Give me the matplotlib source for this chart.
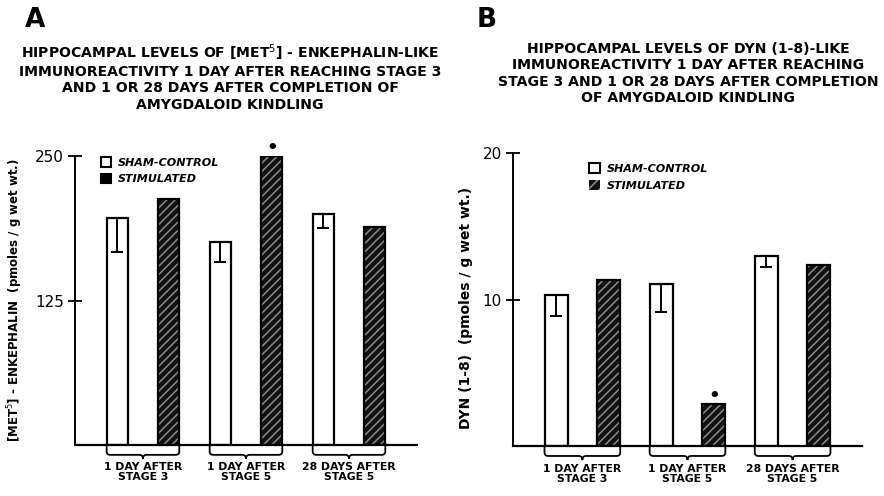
import numpy as np
import matplotlib.pyplot as plt
from matplotlib.patches import Patch, PathPatch
from matplotlib.path import Path
from matplotlib.transforms import blended_transform_factory

groups = ["1 DAY AFTER\nSTAGE 3", "1 DAY AFTER\nSTAGE 5", "28 DAYS AFTER\nSTAGE 5"]

# panel A: [Met5]-enkephalin (pmoles / g wet wt.)
enk_sham = [196, 176, 200]
enk_sham_err = [29, 18, 12]
enk_stim = [213, 250, 189]
enk_ticks = [125, 250]

# panel B: DYN (1-8) (pmoles / g wet wt.)
dyn_sham = [10.3, 11.05, 12.95]
dyn_sham_err = [1.4, 1.9, 0.7]
dyn_stim = [11.3, 2.9, 12.35]
dyn_ticks = [10, 20]

signif = [False, True, False]

plt.rcParams["font.family"] = "DejaVu Sans"
plt.rcParams["hatch.linewidth"] = 1.1

STIM_FACE = "#111111"
HATCH_COL = "#8c8c8c"


def brace(ax, x0, x1):
    # curly bracket under each pair of bars
    tr = blended_transform_factory(ax.transData, ax.transAxes)
    xc = (x0 + x1) / 2
    d, n, r = 0.034, 0.014, 0.035
    verts = [(x0, 0), (x0, -d + 0.012), (x0, -d), (x0 + r, -d),
             (xc - r, -d), (xc, -d), (xc, -d - n),
             (xc, -d), (xc + r, -d),
             (x1 - r, -d), (x1, -d), (x1, -d + 0.012), (x1, 0)]
    codes = [Path.MOVETO, Path.LINETO, Path.CURVE3, Path.CURVE3,
             Path.LINETO, Path.CURVE3, Path.CURVE3,
             Path.CURVE3, Path.CURVE3,
             Path.LINETO, Path.CURVE3, Path.CURVE3, Path.LINETO]
    ax.add_patch(PathPatch(Path(verts, codes), transform=tr, fill=False,
                           lw=1.3, ec="black", clip_on=False))


def panel(ax, sham, sham_err, stim, ticks, ymax, width):
    x = np.arange(len(groups))
    xs, xt = x - 0.25, x + 0.25
    ax.bar(xs, sham, width, color="white", edgecolor="black", lw=1.6, zorder=2)
    ax.errorbar(xs, sham, yerr=[sham_err, np.zeros(len(sham))], fmt="none",
                ecolor="black", elinewidth=1.4, capsize=4, capthick=1.4, zorder=3)
    ax.bar(xt, stim, width, color=STIM_FACE, edgecolor=HATCH_COL, hatch="////",
           lw=0, zorder=2)
    ax.bar(xt, stim, width, fill=False, edgecolor="black", lw=1.6, zorder=3)
    tr = blended_transform_factory(ax.transData, ax.transAxes)
    for i in range(len(groups)):
        if signif[i]:
            ax.annotate("\u2022", xy=(xt[i], stim[i]), xytext=(0, -1),
                        textcoords="offset points", ha="center", va="bottom",
                        fontsize=13, fontweight="bold")
        brace(ax, xs[i] - width / 2, xt[i] + width / 2)
        ax.text(x[i], -0.06, groups[i], transform=tr, ha="center", va="top",
                fontsize=7.8, fontweight="bold", linespacing=1.0)

    ax.set_xlim(-0.66, 2.66)
    ax.set_ylim(0, ymax)
    ax.set_xticks([])
    ax.set_yticks(ticks)
    ax.tick_params(axis="y", direction="inout", length=10, width=1.3,
                   labelsize=11, pad=3)
    for s in ["top", "right"]:
        ax.spines[s].set_visible(False)
    ax.spines["left"].set_linewidth(1.4)
    ax.spines["bottom"].set_linewidth(1.6)


fig = plt.figure(figsize=(8.84, 4.96), dpi=100)
ax1 = fig.add_axes([0.0848, 0.1028, 0.3869, 0.5827])
ax2 = fig.add_axes([0.5803, 0.1008, 0.3948, 0.5907])

panel(ax1, enk_sham, enk_sham_err, enk_stim, enk_ticks, 250, 0.205)
panel(ax2, dyn_sham, dyn_sham_err, dyn_stim, dyn_ticks, 20, 0.22)

ax1.set_ylabel("[MET$^{5}$] - ENKEPHALIN  (pmoles / g wet wt.)", fontsize=8.5,
               fontweight="bold")
ax2.set_ylabel("DYN (1-8)  (pmoles / g wet wt.)", fontsize=10,
               fontweight="bold")
ax1.yaxis.set_label_coords(-0.145, 0.5)
ax2.yaxis.set_label_coords(-0.115, 0.47)

# legends
leg_a = [Patch(facecolor="white", edgecolor="black", lw=1.5),
         Patch(facecolor="black", edgecolor="black", lw=1.5)]
leg_b = [Patch(facecolor="white", edgecolor="black", lw=1.5),
         Patch(facecolor=STIM_FACE, edgecolor=HATCH_COL, hatch="///", lw=0)]
prop = dict(size=8, weight="bold", style="italic")
ax1.legend(leg_a, ["SHAM-CONTROL", "STIMULATED"], loc="upper left",
           bbox_to_anchor=(0.048, 1.03), frameon=False, prop=prop,
           handlelength=0.9, handleheight=0.9, handletextpad=0.6, labelspacing=0.55)
ax2.legend(leg_b, ["SHAM-CONTROL", "STIMULATED"], loc="upper left",
           bbox_to_anchor=(0.19, 1.0), frameon=False, prop=prop,
           handlelength=1.0, handleheight=1.0, handletextpad=0.6, labelspacing=0.6)

title_a = ("HIPPOCAMPAL LEVELS OF [MET$^{5}$] - ENKEPHALIN-LIKE\n"
           "IMMUNOREACTIVITY 1 DAY AFTER REACHING STAGE 3\n"
           "AND 1 OR 28 DAYS AFTER COMPLETION OF\n"
           "AMYGDALOID KINDLING")
title_b = ("HIPPOCAMPAL LEVELS OF DYN (1-8)-LIKE\n"
           "IMMUNOREACTIVITY 1 DAY AFTER REACHING\n"
           "STAGE 3 AND 1 OR 28 DAYS AFTER COMPLETION\n"
           "OF AMYGDALOID KINDLING")
fig.text(230 / 884, 1 - 42 / 496, title_a, ha="center", va="top", fontsize=10.1,
         fontweight="bold", linespacing=1.22)
fig.text(688 / 884, 1 - 42 / 496, title_b, ha="center", va="top", fontsize=10.1,
         fontweight="bold", linespacing=1.22)

fig.text(35 / 884, 1 - 20 / 496, "A", ha="center", va="center", fontsize=19,
         fontweight="bold")
fig.text(487 / 884, 1 - 20 / 496, "B", ha="center", va="center", fontsize=19,
         fontweight="bold")

fig.savefig("out.png", dpi=100)
